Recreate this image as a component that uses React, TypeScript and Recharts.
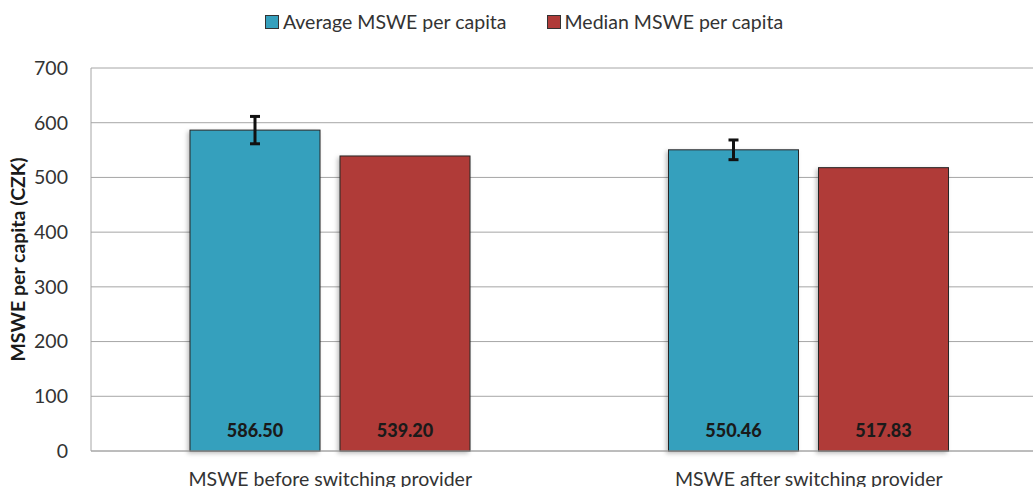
import React from 'react';
import {
  BarChart,
  Bar,
  XAxis,
  YAxis,
  CartesianGrid,
  Legend,
  LabelList,
  ErrorBar
} from 'recharts';

const categories = ['MSWE before switching provider', 'MSWE after switching provider'];
const averageValues = [586.5, 550.46];
const averageErrors = [25, 18];
const medianValues = [539.2, 517.83];
const yTicks = [0, 100, 200, 300, 400, 500, 600, 700];

const BLUE = '#35a0bd';
const RED = '#b03b39';
const FONT = 'Lato, "Open Sans", sans-serif';
const TEXT_SIZE = 19.5;

const data = categories.map((name, i) => ({
  name,
  average: averageValues[i],
  averageErr: averageErrors[i],
  median: medianValues[i]
}));

const legendItems = [
  { label: 'Average MSWE per capita', color: BLUE },
  { label: 'Median MSWE per capita', color: RED }
];

const LegendContent = () => (
  <div style={{ display: 'flex', justifyContent: 'center', gap: 40, fontFamily: FONT, fontSize: TEXT_SIZE, color: '#333' }}>
    {legendItems.map((item) => (
      <div key={item.label} style={{ display: 'flex', alignItems: 'center', gap: 4 }}>
        <span style={{ width: 12, height: 12, background: item.color, border: '1px solid #333', display: 'inline-block' }} />
        <span>{item.label}</span>
      </div>
    ))}
  </div>
);

const ValueLabel = (props: any) => {
  const { x, y, width, height, value } = props;
  return (
    <text
      x={x + width / 2}
      y={y + height - 14}
      textAnchor="middle"
      fontFamily={FONT}
      fontSize={18}
      fontWeight={900}
      fill="#1a1a1a"
    >
      {Number(value).toFixed(2)}
    </text>
  );
};

const CategoryTick = (props: any) => {
  const { x, y, payload } = props;
  return (
    <text x={x} y={y + 27} textAnchor="middle" fontFamily={FONT} fontSize={TEXT_SIZE} fill="#333">
      {payload.value}
    </text>
  );
};

const BarShape = (props: any) => {
  const { x, y, width, height, fill } = props;
  return (
    <rect
      x={x}
      y={y}
      width={width}
      height={height}
      fill={fill}
      stroke="#262626"
      strokeWidth={1}
      filter="url(#barShadow)"
    />
  );
};

export default function App() {
  return (
    <div style={{ position: 'absolute', left: 0, top: 0, width: 1033, height: 487, overflow: 'hidden', background: '#fff' }}>
      <BarChart
        width={1060}
        height={487}
        data={data}
        margin={{ top: 68, right: 12, bottom: 0, left: 0 }}
        barSize={130}
        barGap={20}
      >
        <defs>
          <filter id="barShadow" x="-10%" y="-10%" width="120%" height="120%">
            <feDropShadow dx={-2} dy={2} stdDeviation={2} floodColor="#000" floodOpacity={0.25} />
          </filter>
        </defs>
        <CartesianGrid vertical={false} stroke="#a6a6a6" />
        <XAxis
          dataKey="name"
          height={36}
          axisLine={{ stroke: '#a6a6a6' }}
          tickLine={false}
          tick={<CategoryTick />}
          interval={0}
        />
        <YAxis
          width={91}
          domain={[0, 700]}
          ticks={yTicks}
          axisLine={{ stroke: '#a6a6a6' }}
          tickLine={false}
          tickMargin={17}
          tick={{ fontFamily: FONT, fontSize: TEXT_SIZE, fill: '#333' }}
          label={{
            value: 'MSWE per capita (CZK)',
            angle: -90,
            position: 'insideLeft',
            offset: 18,
            style: { textAnchor: 'middle', fontFamily: FONT, fontSize: TEXT_SIZE, fontWeight: 'bold', fill: '#1a1a1a' }
          }}
        />
        <Legend
          layout="horizontal"
          verticalAlign="middle"
          align="center"
          wrapperStyle={{ top: 10 }}
          content={<LegendContent />}
        />
        <Bar dataKey="average" fill={BLUE} shape={<BarShape />} isAnimationActive={false}>
          <ErrorBar dataKey="averageErr" width={5} stroke="#111" strokeWidth={3} />
          <LabelList dataKey="average" content={<ValueLabel />} />
        </Bar>
        <Bar dataKey="median" fill={RED} shape={<BarShape />} isAnimationActive={false}>
          <LabelList dataKey="median" content={<ValueLabel />} />
        </Bar>
      </BarChart>
    </div>
  );
}
